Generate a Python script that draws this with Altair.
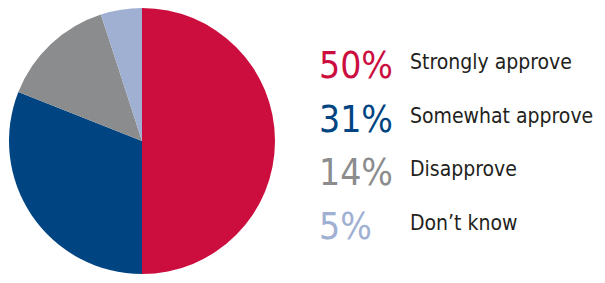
import altair as alt
import pandas as pd

categories = ["Strongly approve", "Somewhat approve", "Disapprove", "Don\u2019t know"]
values = [50, 31, 14, 5]
pct_labels = ["50%", "31%", "14%", "5%"]
colors = ["#CC0E3F", "#004582", "#8B8C8E", "#A0B0D2"]

df = pd.DataFrame({
    "category": categories,
    "value": values,
    "pct": pct_labels,
    "order": list(range(len(categories))),
})

FONT = "DejaVu Sans Condensed, Roboto Condensed, Liberation Sans Narrow, sans-serif"

color = alt.Color("category:N", scale=alt.Scale(domain=categories, range=colors), legend=None)
yscale = alt.Scale(type="point", domain=categories, padding=1.15)

pie = alt.Chart(df).mark_arc(radius=133, x=134, y=133).encode(
    theta=alt.Theta("value:Q", stack=True),
    color=color,
    order=alt.Order("order:Q"),
)

pct = alt.Chart(df).mark_text(
    align="left", baseline="alphabetic", font=FONT, fontSize=37, x=311, dy=17
).encode(
    y=alt.Y("category:N", scale=yscale, axis=None),
    text="pct:N",
    color=color,
)

lab = alt.Chart(df).mark_text(
    align="left", baseline="alphabetic", font=FONT, fontSize=21, x=402, dy=8,
    color="#231F20"
).encode(
    y=alt.Y("category:N", scale=yscale, axis=None),
    text="category:N",
)

chart = alt.layer(pie, pct, lab).properties(
    width=589, height=267, padding=0,
    autosize=alt.AutoSizeParams(type="none")
).configure_view(stroke=None)

chart.save("out.html", embed_options={"renderer": "svg", "actions": False})
